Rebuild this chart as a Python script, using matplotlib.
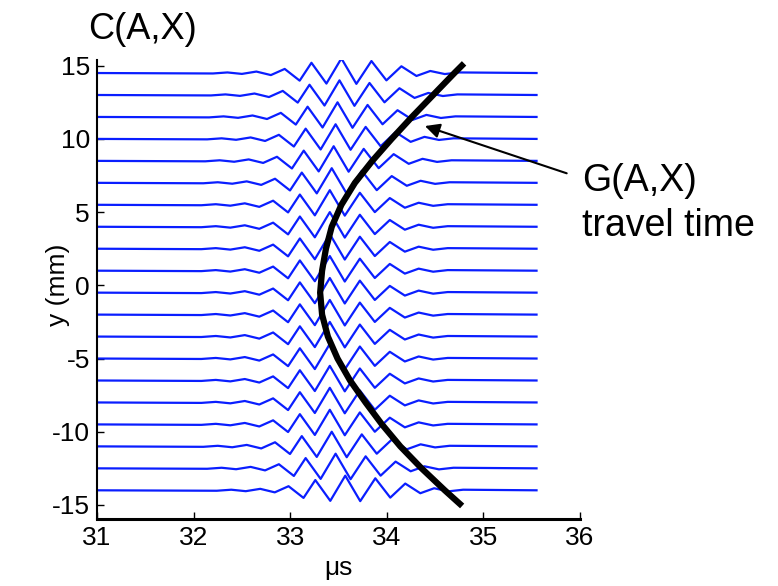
# C(A,X) traces with G(A,X) travel-time curve overlaid.

import matplotlib
matplotlib.use('Agg')
import matplotlib.pyplot as plt

# trace offsets (mm) and per-trace time shift of the wave packet (us)
trace_y = [-14, -12.5, -11, -9.5, -8, -6.5, -5, -3.5, -2, -0.5,
           1, 2.5, 4, 5.5, 7, 8.5, 10, 11.5, 13, 14.5]
trace_shift = [0.04, -0.06, -0.10, -0.12, -0.12, -0.12, -0.12, -0.12, -0.12, -0.12,
               -0.12, -0.12, -0.12, -0.12, -0.10, -0.08, -0.06, -0.04, -0.02, 0.0]

# wave packet extrema: time rel. to main peak, amplitude (mm)
wave_dt = [-1.33, -1.18, -1.03, -0.88, -0.73, -0.587, -0.432, -0.31, -0.155, 0.0,
           0.155, 0.311, 0.466, 0.621, 0.777, 0.92, 1.07, 1.22]
wave_amp = [-0.03, 0.04, -0.06, 0.1, -0.14, 0.28, -0.52, 0.7, -0.72, 1.0,
            -0.74, 0.82, -0.5, 0.46, -0.2, 0.14, -0.07, 0.04]
main_peak = 33.53
t_start, t_end = 31.0, 35.55

# travel time curve G(A,X)
curve_t = [34.80, 34.70, 34.48, 34.26, 34.05, 33.85, 33.67, 33.53, 33.43, 33.37, 33.33,
           33.31, 33.33, 33.39, 33.49, 33.62, 33.78, 33.95, 34.14, 34.36, 34.60, 34.78]
curve_y = [15.16, 14.5, 13, 11.5, 10, 8.5, 7, 5.5, 4, 2.5, 1,
           -0.5, -2, -3.5, -5, -6.5, -8, -9.5, -11, -12.5, -14, -15.07]

plt.rcParams['font.family'] = ['Liberation Sans', 'DejaVu Sans']
plt.rcParams['axes.unicode_minus'] = False

fig = plt.figure(figsize=(7.78, 5.86), dpi=100)
ax = fig.add_axes([97 / 778, 1 - 519 / 586, 483 / 778, 459 / 586])

for y0, sh in zip(trace_y, trace_shift):
    xs = [t_start] + [main_peak + sh + d for d in wave_dt] + [t_end]
    ys = [y0] + [y0 + a for a in wave_amp] + [y0]
    ax.plot(xs, ys, color='#0a1eff', lw=1.6, solid_joinstyle='round')

ax.plot(curve_t, curve_y, color='black', lw=4.5, solid_capstyle='butt',
        solid_joinstyle='round')

ax.set_xlim(31, 36)
ax.set_ylim(-15.96, 15.39)
ax.set_xticks([31, 32, 33, 34, 35, 36])
ax.set_yticks([-15, -10, -5, 0, 5, 10, 15])
ax.tick_params(direction='in', length=5, width=1, labelsize=19, pad=5)
for s in ['top', 'right']:
    ax.spines[s].set_visible(False)
ax.spines['left'].set_linewidth(1.5)
ax.spines['bottom'].set_linewidth(2.2)
ax.set_xlabel('μs', fontsize=19, labelpad=4)
ax.set_ylabel('y (mm)', fontsize=19)
ax.yaxis.set_label_coords(-0.055, 0.51)

fig.text(88 / 778, 1 - 12 / 586, 'C(A,X)', fontsize=26, va='top', ha='left')
fig.text(582 / 778, 1 - 163 / 586, 'G(A,X)', fontsize=27, va='top', ha='left')
fig.text(582 / 778, 1 - 208 / 586, 'travel time', fontsize=27, va='top', ha='left')

ax.annotate('', xy=(34.395, 10.88), xycoords='data',
            xytext=(566.7 / 778, 1 - 173.3 / 586), textcoords='figure fraction',
            arrowprops=dict(arrowstyle='-|>', color='black', lw=1.5,
                            mutation_scale=22, shrinkA=0, shrinkB=0))

fig.savefig('out.png', dpi=100)
